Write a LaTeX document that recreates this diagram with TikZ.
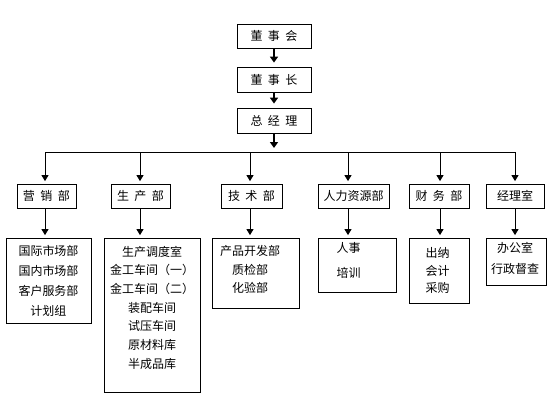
\documentclass[tikz,border=0pt]{standalone}
\usepackage{fontspec}
\newfontfamily\cjk{Noto Sans CJK SC}
\usetikzlibrary{arrows.meta}
\begin{document}
\begin{tikzpicture}[x=1pt,y=-1pt,
  font=\cjk\fontsize{12}{14}\selectfont,
  box/.style={draw, line width=0.8pt, inner sep=0pt},
  bigarrow/.style={line width=2.6pt, -{Triangle[width=8pt,length=6pt]}, shorten >=4pt},
  smallarrow/.style={line width=0.8pt, -{Triangle[width=7pt,length=6pt]}, shorten >=2.5pt},
  bus/.style={line width=0.8pt},
  list/.style={align=center, anchor=north, inner sep=0pt}]
\useasboundingbox (0,0) rectangle (552,407);
\newcommand{\gp}{\hspace{5.5pt}}
% top chain
\node[box, minimum width=74pt, minimum height=24pt] (dsh) at (274,36) {董\gp 事\gp 会};
\node[box, minimum width=74pt, minimum height=25pt] (dsz) at (274,79.5) {董\gp 事\gp 长};
\node[box, minimum width=74pt, minimum height=25pt] (zjl) at (274,120.5) {总\gp 经\gp 理};
\coordinate (bc) at (274,152);
\draw[bigarrow] (dsh) -- (dsz);
\draw[bigarrow] (dsz) -- (zjl);
\draw[bigarrow] (zjl) -- (bc);
% bus
\coordinate (b1) at (45,152);
\coordinate (b2) at (140,152);
\coordinate (b3) at (250,152);
\coordinate (b4) at (348,152);
\coordinate (b5) at (440,152);
\coordinate (b6) at (515,152);
\draw[bus] (b1) -- (b6);
% departments
\node[box, minimum width=59pt, minimum height=24pt] (yx) at (46.5,196) {营\gp 销\gp 部};
\node[box, minimum width=59pt, minimum height=24pt] (sc) at (140.5,196) {生\gp 产\gp 部};
\node[box, minimum width=61pt, minimum height=24pt] (js) at (251.5,196) {技\gp 术\gp 部};
\node[box, minimum width=71pt, minimum height=24pt] (rl) at (353.5,196) {人力资源部};
\node[box, minimum width=60pt, minimum height=24pt] (cw) at (439,196) {财\gp 务\gp 部};
\node[box, minimum width=58pt, minimum height=24pt] (jl) at (515,196) {经理室};
\foreach \b/\d in {b1/yx,b2/sc,b3/js,b4/rl,b5/cw,b6/jl}
  \draw[smallarrow] (\b) -- (\b |- \d.north);
% lower boxes
\node[box, minimum width=85pt, minimum height=85pt] (yxL) at (48.5,280.5) {};
\node[box, minimum width=96pt, minimum height=154pt] (scL) at (152,315) {};
\node[box, minimum width=87pt, minimum height=70pt] (jsL) at (255.5,273) {};
\node[box, minimum width=78pt, minimum height=54pt] (rlL) at (357,265) {};
\node[box, minimum width=60pt, minimum height=65pt] (cwL) at (439,270.5) {};
\node[box, minimum width=60pt, minimum height=47pt] (jlL) at (516,261.5) {};
\foreach \b/\d in {b1/yx,b2/sc,b3/js,b4/rl,b5/cw,b6/jl}
  \draw[smallarrow] (\b |- \d.south) -- (\b |- \d L.north);
% lists
\node[list, font=\cjk\fontsize{12}{20}\selectfont] (yxT) at (48.5,245.6) {国际市场部\\国内市场部\\客户服务部\\计划组};
\node[list, font=\cjk\fontsize{12}{18.7}\selectfont] (scT) at (152,245.6) {生产调度室\\金工车间（一）\\金工车间（二）\\装配车间\\试压车间\\原材料库\\半成品库};
\node[list, font=\cjk\fontsize{12}{18.5}\selectfont] (jsT) at (250,245.6) {产品开发部\\质检部\\化验部};
\node[list, font=\cjk\fontsize{12}{25}\selectfont] (rlT) at (348.5,242.6) {人事\\培训};
\node[list, font=\cjk\fontsize{12}{17.5}\selectfont] (cwT) at (437.5,247.6) {出纳\\会计\\采购};
\node[list, font=\cjk\fontsize{12}{21}\selectfont] (jlT) at (515,241.6) {办公室\\行政督查};
\end{tikzpicture}
\end{document}
